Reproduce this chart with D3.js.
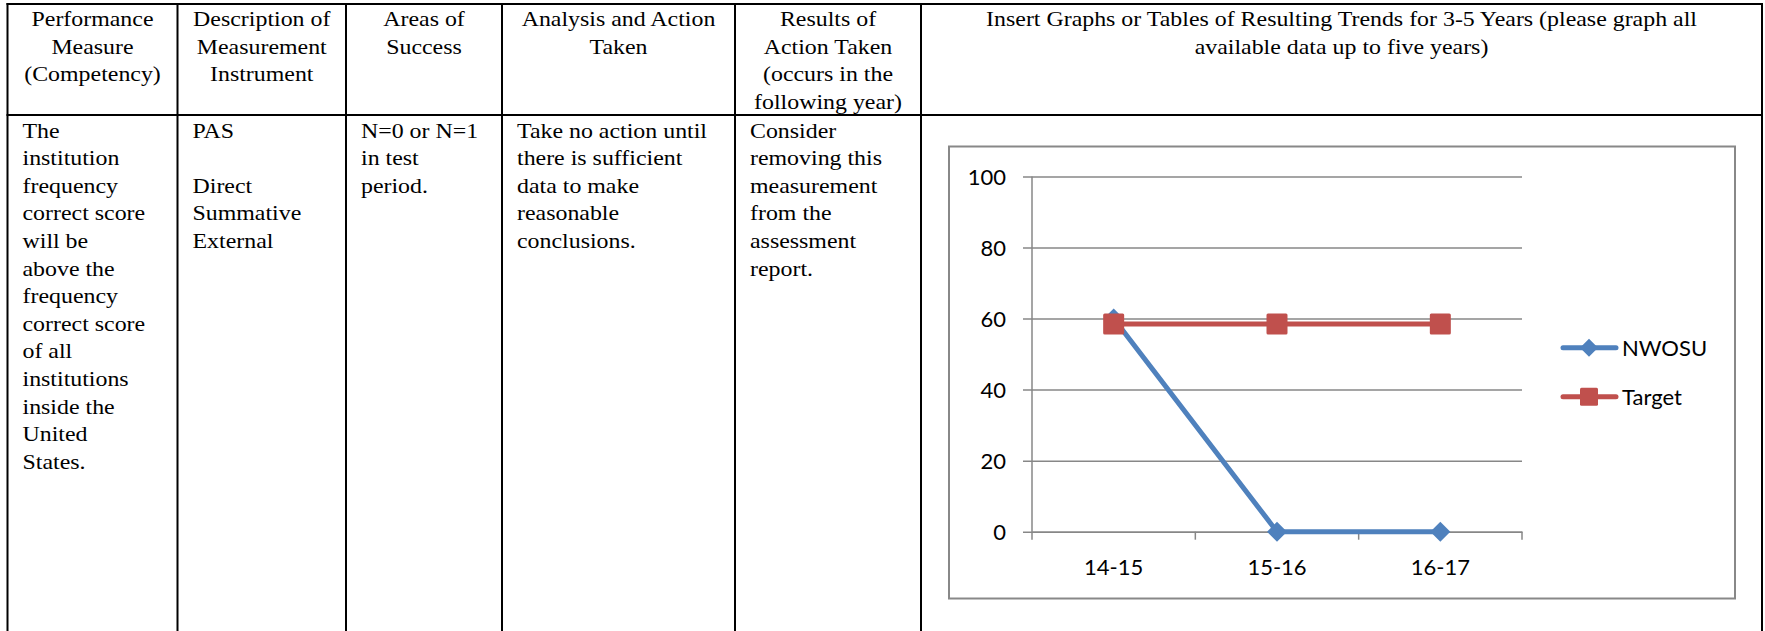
<!DOCTYPE html>
<html>
<head>
<meta charset="utf-8">
<script src="https://cdn.jsdelivr.net/npm/d3@7"></script>
<style>
    body { margin: 0; background: #fff; }
    svg { display: block; }
</style>
</head>
<body>
<div class="chart"></div>
<script>
// Chart data
let categories = ["14-15", "15-16", "16-17"];
let nwosuValues = [60, 0, 0];
let targetValues = [58.5, 58.5, 58.5];
let yTicks = [0, 20, 40, 60, 80, 100];
let seriesNames = ["NWOSU", "Target"];

// Table text, one list of lines per column
let headerText = [
    ["Performance", "Measure", "(Competency)"],
    ["Description of", "Measurement", "Instrument"],
    ["Areas of", "Success"],
    ["Analysis and Action", "Taken"],
    ["Results of", "Action Taken", "(occurs in the", "following year)"],
    ["Insert Graphs or Tables of Resulting Trends for 3-5 Years (please graph all", "available data up to five years)"]
];
let bodyText = [
    ["The", "institution", "frequency", "correct score", "will be", "above the", "frequency", "correct score", "of all", "institutions", "inside the", "United", "States."],
    ["PAS", "", "Direct", "Summative", "External"],
    ["N=0 or N=1", "in test", "period."],
    ["Take no action until", "there is sufficient", "data to make", "reasonable", "conclusions."],
    ["Consider", "removing this", "measurement", "from the", "assessment", "report."]
];

let svgWidth = 1765;
let svgHeight = 631;

let svg = d3.select(".chart")
    .append("svg")
    .attr("width", svgWidth)
    .attr("height", svgHeight);

// Table grid
let colEdges = [7.5, 177.5, 346, 502, 735, 921, 1762];
let tableTop = 4;
let headerBottom = 115;
let lineHeight = 27.6;
let pad = 15;
// the scanned page is a bit wider than tall, so stretch the serif text sideways
let stretch = 1.086;

let table = svg.append("g");

table.selectAll("line.col")
    .data(colEdges)
    .enter()
    .append("line")
    .attr("x1", d => d)
    .attr("x2", d => d)
    .attr("y1", tableTop - 1)
    .attr("y2", svgHeight)
    .attr("stroke", "#000")
    .attr("stroke-width", 2);

[tableTop, headerBottom].forEach(y => {
    table.append("line")
        .attr("x1", colEdges[0] - 1)
        .attr("x2", colEdges[colEdges.length - 1] + 1)
        .attr("y1", y)
        .attr("y2", y)
        .attr("stroke", "#000")
        .attr("stroke-width", 2);
});

let serif = "'Liberation Serif', 'Times New Roman', serif";

headerText.forEach((lines, i) => {
    let cx = (colEdges[i] + colEdges[i + 1]) / 2;
    table.append("text")
        .attr("transform", `translate(${cx}, 0) scale(${stretch}, 1)`)
        .attr("font-family", serif)
        .attr("font-size", 22)
        .attr("text-anchor", "middle")
        .selectAll("tspan")
        .data(lines)
        .enter()
        .append("tspan")
        .attr("x", 0)
        .attr("y", (d, j) => 26 + j * lineHeight)
        .text(d => d);
});

bodyText.forEach((lines, i) => {
    table.append("text")
        .attr("transform", `translate(${colEdges[i] + pad}, 0) scale(${stretch}, 1)`)
        .attr("font-family", serif)
        .attr("font-size", 22)
        .selectAll("tspan")
        .data(lines)
        .enter()
        .append("tspan")
        .attr("x", 0)
        .attr("y", (d, j) => 137.7 + j * lineHeight)
        .text(d => d);
});

// Chart box
let box = { left: 949, top: 146.5, right: 1735, bottom: 598.5 };
svg.append("rect")
    .attr("x", box.left)
    .attr("y", box.top)
    .attr("width", box.right - box.left)
    .attr("height", box.bottom - box.top)
    .attr("fill", "#fff")
    .attr("stroke", "#888")
    .attr("stroke-width", 2);

let plot = { left: 1032, right: 1522, top: 176.5, bottom: 531.7 };
let plotWidth = plot.right - plot.left;
let sans = "Lato, 'Noto Sans', sans-serif";
let grey = "#878787";

let xScale = d3.scaleBand()
    .domain(categories)
    .range([plot.left, plot.right]);

let yScale = d3.scaleLinear()
    .domain([0, 100])
    .range([plot.bottom, plot.top]);

// Y axis with gridlines
let yAxis = svg.append("g")
    .attr("transform", `translate(${plot.left}, 0)`)
    .call(d3.axisLeft(yScale).tickValues(yTicks).tickFormat(d3.format("d")));

yAxis.select(".domain").remove();
yAxis.selectAll(".tick line")
    .attr("x1", -9)
    .attr("x2", plotWidth)
    .attr("stroke", grey)
    .attr("stroke-width", 1.5);
yAxis.selectAll(".tick text")
    .attr("x", -26)
    .attr("dy", "0.36em")
    .attr("font-family", sans)
    .attr("font-size", 22)
    .attr("fill", "#000");

svg.append("line")
    .attr("x1", plot.left)
    .attr("x2", plot.left)
    .attr("y1", plot.top)
    .attr("y2", plot.bottom + 8)
    .attr("stroke", grey)
    .attr("stroke-width", 1.5);

// X axis: labels at band centres, ticks at band edges
let xAxis = svg.append("g")
    .attr("transform", `translate(0, ${plot.bottom})`)
    .call(d3.axisBottom(xScale).tickSize(0));

xAxis.select(".domain")
    .attr("stroke", grey)
    .attr("stroke-width", 1.5);
xAxis.selectAll(".tick text")
    .attr("y", 43)
    .attr("dy", 0)
    .attr("font-family", sans)
    .attr("font-size", 22)
    .attr("fill", "#000");

let edges = categories.map(d => xScale(d)).concat([plot.right]);
xAxis.selectAll("line.edge")
    .data(edges.slice(1))
    .enter()
    .append("line")
    .attr("x1", d => d)
    .attr("x2", d => d)
    .attr("y1", 0)
    .attr("y2", 8)
    .attr("stroke", grey)
    .attr("stroke-width", 1.5);

// Series
let blue = "#4F81BD";
let red = "#C0504D";

let line = d3.line()
    .x((d, i) => xScale(categories[i]) + xScale.bandwidth() / 2)
    .y(d => yScale(d));

svg.append("path")
    .datum(nwosuValues)
    .attr("d", line)
    .attr("fill", "none")
    .attr("stroke", blue)
    .attr("stroke-width", 5)
    .attr("stroke-linejoin", "round");

svg.selectAll("path.diamond")
    .data(nwosuValues)
    .enter()
    .append("path")
    .attr("d", "M0,-10L10,0L0,10L-10,0Z")
    .attr("transform", (d, i) => `translate(${xScale(categories[i]) + xScale.bandwidth() / 2}, ${yScale(d)})`)
    .attr("fill", blue);

svg.append("path")
    .datum(targetValues)
    .attr("d", line)
    .attr("fill", "none")
    .attr("stroke", red)
    .attr("stroke-width", 5);

svg.selectAll("rect.square")
    .data(targetValues)
    .enter()
    .append("rect")
    .attr("x", (d, i) => xScale(categories[i]) + xScale.bandwidth() / 2 - 10.5)
    .attr("y", d => yScale(d) - 10.5)
    .attr("width", 21)
    .attr("height", 21)
    .attr("rx", 1.5)
    .attr("fill", red);

// Legend
let legend = svg.append("g");
let legendY = [347.7, 396.7];

seriesNames.forEach((name, i) => {
    let color = i === 0 ? blue : red;
    let y = legendY[i];
    legend.append("line")
        .attr("x1", 1563)
        .attr("x2", 1616)
        .attr("y1", y)
        .attr("y2", y)
        .attr("stroke", color)
        .attr("stroke-width", 5)
        .attr("stroke-linecap", "round");
    if (i === 0) {
        legend.append("path")
            .attr("d", "M0,-9L9,0L0,9L-9,0Z")
            .attr("transform", `translate(1589, ${y})`)
            .attr("fill", color);
    } else {
        legend.append("rect")
            .attr("x", 1589 - 9)
            .attr("y", y - 9)
            .attr("width", 18)
            .attr("height", 18)
            .attr("rx", 1.5)
            .attr("fill", color);
    }
    legend.append("text")
        .attr("x", 1622)
        .attr("y", y)
        .attr("dy", "0.36em")
        .attr("font-family", sans)
        .attr("font-size", 22)
        .text(name);
});
</script>
</body>
</html>
